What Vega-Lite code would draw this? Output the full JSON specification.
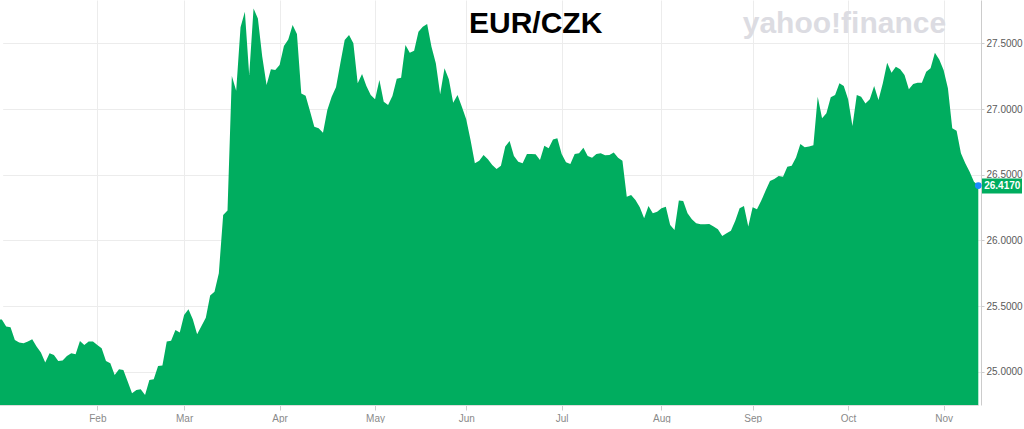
{
  "$schema": "https://vega.github.io/schema/vega-lite/v6.json",
  "width": 981,
  "height": 405,
  "padding": 0,
  "autosize": {"type": "pad"},
  "background": "white",
  "config": {"view": {"stroke": null}, "axis": {"labelFont": "Liberation Sans"}},
  "data": {"values": [
    {"date":"2020-01-01","close":25.400},{"date":"2020-01-02","close":25.397},{"date":"2020-01-03","close":25.344},{"date":"2020-01-06","close":25.339},{"date":"2020-01-07","close":25.242},{"date":"2020-01-08","close":25.222},{"date":"2020-01-09","close":25.217},{"date":"2020-01-10","close":25.230},{"date":"2020-01-13","close":25.247},{"date":"2020-01-14","close":25.192},{"date":"2020-01-15","close":25.146},{"date":"2020-01-16","close":25.070},{"date":"2020-01-17","close":25.141},{"date":"2020-01-20","close":25.128},{"date":"2020-01-21","close":25.082},{"date":"2020-01-22","close":25.085},{"date":"2020-01-23","close":25.120},{"date":"2020-01-24","close":25.141},{"date":"2020-01-27","close":25.133},{"date":"2020-01-28","close":25.235},{"date":"2020-01-29","close":25.204},{"date":"2020-01-30","close":25.230},{"date":"2020-01-31","close":25.230},
    {"date":"2020-02-03","close":25.204},{"date":"2020-02-04","close":25.179},{"date":"2020-02-05","close":25.082},{"date":"2020-02-06","close":25.065},{"date":"2020-02-07","close":24.976},{"date":"2020-02-10","close":25.019},{"date":"2020-02-11","close":25.014},{"date":"2020-02-12","close":24.925},{"date":"2020-02-13","close":24.836},{"date":"2020-02-14","close":24.862},{"date":"2020-02-17","close":24.867},{"date":"2020-02-18","close":24.824},{"date":"2020-02-19","close":24.938},{"date":"2020-02-20","close":24.943},{"date":"2020-02-21","close":25.044},{"date":"2020-02-24","close":25.047},{"date":"2020-02-25","close":25.230},{"date":"2020-02-26","close":25.237},{"date":"2020-02-27","close":25.318},{"date":"2020-02-28","close":25.298},
    {"date":"2020-03-02","close":25.433},{"date":"2020-03-03","close":25.476},{"date":"2020-03-04","close":25.400},{"date":"2020-03-05","close":25.285},{"date":"2020-03-06","close":25.349},{"date":"2020-03-09","close":25.412},{"date":"2020-03-10","close":25.580},{"date":"2020-03-11","close":25.610},{"date":"2020-03-12","close":25.750},{"date":"2020-03-13","close":26.194},{"date":"2020-03-16","close":26.227},{"date":"2020-03-17","close":27.251},{"date":"2020-03-18","close":27.140},{"date":"2020-03-19","close":27.622},{"date":"2020-03-20","close":27.741},{"date":"2020-03-23","close":27.259},{"date":"2020-03-24","close":27.766},{"date":"2020-03-25","close":27.690},{"date":"2020-03-26","close":27.399},{"date":"2020-03-27","close":27.183},{"date":"2020-03-30","close":27.302},{"date":"2020-03-31","close":27.297},
    {"date":"2020-04-01","close":27.335},{"date":"2020-04-02","close":27.480},{"date":"2020-04-03","close":27.530},{"date":"2020-04-06","close":27.640},{"date":"2020-04-07","close":27.571},{"date":"2020-04-08","close":27.119},{"date":"2020-04-09","close":27.102},{"date":"2020-04-10","close":26.985},{"date":"2020-04-13","close":26.866},{"date":"2020-04-14","close":26.853},{"date":"2020-04-15","close":26.820},{"date":"2020-04-16","close":26.993},{"date":"2020-04-17","close":27.094},{"date":"2020-04-20","close":27.165},{"date":"2020-04-21","close":27.348},{"date":"2020-04-22","close":27.525},{"date":"2020-04-23","close":27.563},{"date":"2020-04-24","close":27.500},{"date":"2020-04-27","close":27.196},{"date":"2020-04-28","close":27.267},{"date":"2020-04-29","close":27.175},{"date":"2020-04-30","close":27.107},
    {"date":"2020-05-01","close":27.074},{"date":"2020-05-04","close":27.221},{"date":"2020-05-05","close":27.056},{"date":"2020-05-06","close":27.031},{"date":"2020-05-07","close":27.099},{"date":"2020-05-08","close":27.231},{"date":"2020-05-11","close":27.239},{"date":"2020-05-12","close":27.487},{"date":"2020-05-13","close":27.429},{"date":"2020-05-14","close":27.444},{"date":"2020-05-15","close":27.589},{"date":"2020-05-18","close":27.627},{"date":"2020-05-19","close":27.647},{"date":"2020-05-20","close":27.475},{"date":"2020-05-21","close":27.348},{"date":"2020-05-22","close":27.112},{"date":"2020-05-25","close":27.310},{"date":"2020-05-26","close":27.226},{"date":"2020-05-27","close":27.048},{"date":"2020-05-28","close":27.107},{"date":"2020-05-29","close":27.018},
    {"date":"2020-06-01","close":26.922},{"date":"2020-06-02","close":26.764},{"date":"2020-06-03","close":26.587},{"date":"2020-06-04","close":26.607},{"date":"2020-06-05","close":26.650},{"date":"2020-06-08","close":26.617},{"date":"2020-06-09","close":26.574},{"date":"2020-06-10","close":26.544},{"date":"2020-06-11","close":26.569},{"date":"2020-06-12","close":26.714},{"date":"2020-06-15","close":26.757},{"date":"2020-06-16","close":26.643},{"date":"2020-06-17","close":26.599},{"date":"2020-06-18","close":26.587},{"date":"2020-06-19","close":26.658},{"date":"2020-06-22","close":26.658},{"date":"2020-06-23","close":26.655},{"date":"2020-06-24","close":26.612},{"date":"2020-06-25","close":26.721},{"date":"2020-06-26","close":26.701},{"date":"2020-06-29","close":26.769},{"date":"2020-06-30","close":26.777},
    {"date":"2020-07-01","close":26.658},{"date":"2020-07-02","close":26.594},{"date":"2020-07-03","close":26.582},{"date":"2020-07-06","close":26.658},{"date":"2020-07-07","close":26.663},{"date":"2020-07-08","close":26.706},{"date":"2020-07-09","close":26.643},{"date":"2020-07-10","close":26.630},{"date":"2020-07-13","close":26.658},{"date":"2020-07-14","close":26.663},{"date":"2020-07-15","close":26.648},{"date":"2020-07-16","close":26.650},{"date":"2020-07-17","close":26.670},{"date":"2020-07-20","close":26.630},{"date":"2020-07-21","close":26.607},{"date":"2020-07-22","close":26.333},{"date":"2020-07-23","close":26.346},{"date":"2020-07-24","close":26.308},{"date":"2020-07-27","close":26.252},{"date":"2020-07-28","close":26.168},{"date":"2020-07-29","close":26.262},{"date":"2020-07-30","close":26.206},{"date":"2020-07-31","close":26.219},
    {"date":"2020-08-03","close":26.244},{"date":"2020-08-04","close":26.257},{"date":"2020-08-05","close":26.117},{"date":"2020-08-06","close":26.079},{"date":"2020-08-07","close":26.303},{"date":"2020-08-10","close":26.300},{"date":"2020-08-11","close":26.206},{"date":"2020-08-12","close":26.161},{"date":"2020-08-13","close":26.130},{"date":"2020-08-14","close":26.123},{"date":"2020-08-17","close":26.123},{"date":"2020-08-18","close":26.125},{"date":"2020-08-19","close":26.105},{"date":"2020-08-20","close":26.084},{"date":"2020-08-21","close":26.034},{"date":"2020-08-24","close":26.054},{"date":"2020-08-25","close":26.074},{"date":"2020-08-26","close":26.150},{"date":"2020-08-27","close":26.244},{"date":"2020-08-28","close":26.262},{"date":"2020-08-31","close":26.105},
    {"date":"2020-09-01","close":26.252},{"date":"2020-09-02","close":26.237},{"date":"2020-09-03","close":26.303},{"date":"2020-09-04","close":26.379},{"date":"2020-09-07","close":26.452},{"date":"2020-09-08","close":26.468},{"date":"2020-09-09","close":26.490},{"date":"2020-09-10","close":26.485},{"date":"2020-09-11","close":26.561},{"date":"2020-09-14","close":26.569},{"date":"2020-09-15","close":26.632},{"date":"2020-09-16","close":26.734},{"date":"2020-09-17","close":26.709},{"date":"2020-09-18","close":26.714},{"date":"2020-09-21","close":26.724},{"date":"2020-09-22","close":27.094},{"date":"2020-09-23","close":26.929},{"date":"2020-09-24","close":26.967},{"date":"2020-09-25","close":27.089},{"date":"2020-09-28","close":27.107},{"date":"2020-09-29","close":27.196},{"date":"2020-09-30","close":27.175},
    {"date":"2020-10-01","close":27.074},{"date":"2020-10-02","close":26.871},{"date":"2020-10-05","close":27.107},{"date":"2020-10-06","close":27.094},{"date":"2020-10-07","close":27.043},{"date":"2020-10-08","close":27.074},{"date":"2020-10-09","close":27.175},{"date":"2020-10-12","close":27.069},{"date":"2020-10-13","close":27.196},{"date":"2020-10-14","close":27.353},{"date":"2020-10-15","close":27.277},{"date":"2020-10-16","close":27.322},{"date":"2020-10-19","close":27.302},{"date":"2020-10-20","close":27.259},{"date":"2020-10-21","close":27.150},{"date":"2020-10-22","close":27.191},{"date":"2020-10-23","close":27.201},{"date":"2020-10-26","close":27.201},{"date":"2020-10-27","close":27.284},{"date":"2020-10-28","close":27.310},{"date":"2020-10-29","close":27.429},{"date":"2020-10-30","close":27.378},
    {"date":"2020-11-02","close":27.297},{"date":"2020-11-03","close":27.158},{"date":"2020-11-04","close":26.853},{"date":"2020-11-05","close":26.835},{"date":"2020-11-06","close":26.663},{"date":"2020-11-09","close":26.587},{"date":"2020-11-10","close":26.523},{"date":"2020-11-11","close":26.447},{"date":"2020-11-12","close":26.417}
  ]},
  "encoding": {
    "x": {
      "field": "date",
      "type": "ordinal",
      "title": null,
      "scale": {"type": "point", "padding": 0, "range": [-2.5, 978.3]},
      "axis": {
        "values": ["2020-02-03","2020-03-02","2020-04-01","2020-05-01","2020-06-01","2020-07-01","2020-08-03","2020-09-01","2020-10-01","2020-11-02"],
        "labelExpr": "utcFormat(toDate(datum.value), '%b')",
        "labelAngle": 0,
        "labelColor": "#8a8a8a",
        "labelFontSize": 10,
        "labelPadding": 3,
        "tickColor": "#cccccc",
        "tickSize": 5,
        "domainColor": "#dddddd",
        "grid": true,
        "gridColor": "#ececec",
        "zindex": 0
      }
    }
  },
  "layer": [
    {
      "mark": {"type": "area", "color": "#00ad5f", "clip": true, "opacity": 1},
      "encoding": {
        "y": {
          "field": "close",
          "type": "quantitative",
          "title": null,
          "scale": {"domain": [24.747, 27.83], "nice": false, "zero": false},
          "axis": {
            "orient": "right",
            "values": [25, 25.5, 26, 26.5, 27, 27.5],
            "format": ".4f",
            "labelColor": "#5a5a5a",
            "labelFontSize": 10,
            "labelPadding": 2,
            "tickColor": "#cccccc",
            "tickSize": 3,
            "domainColor": "#cccccc",
            "gridColor": "#ececec",
            "zindex": 0
          }
        }
      }
    },
    {
      "transform": [{"filter": "datum.date == '2020-11-12'"}],
      "mark": {"type": "point", "filled": true, "opacity": 1, "color": "#00ad5f", "size": 400, "shape": "M0.37,-0.72H4.37V0.78H0.37Z"},
      "encoding": {"y": {"field": "close", "type": "quantitative"}}
    },
    {
      "transform": [{"filter": "datum.date == '2020-11-12'"}],
      "mark": {"type": "point", "filled": true, "opacity": 1, "color": "#1a8cff", "size": 45},
      "encoding": {"y": {"field": "close", "type": "quantitative"}}
    },
    {
      "transform": [{"filter": "datum.date == '2020-11-12'"}],
      "mark": {"type": "text", "color": "#ffffff", "font": "Liberation Sans", "fontSize": 10, "fontWeight": "bold", "align": "center", "baseline": "middle", "dx": 24, "dy": 0},
      "encoding": {"y": {"field": "close", "type": "quantitative"}, "text": {"field": "close", "type": "quantitative", "format": ".4f"}}
    },
    {
      "data": {"values": [{"label": "yahoo!finance"}]},
      "mark": {"type": "text", "color": "#dcdce2", "font": "Liberation Sans", "fontSize": 30, "fontWeight": "bold", "align": "center", "baseline": "alphabetic", "dx": 5},
      "encoding": {
        "x": {"datum": "2020-09-29", "type": "ordinal"},
        "y": {"datum": 27.578, "type": "quantitative"},
        "text": {"field": "label"}
      }
    },
    {
      "data": {"values": [{"label": "EUR/CZK"}]},
      "mark": {"type": "text", "color": "#000000", "font": "Liberation Sans", "fontSize": 30, "fontWeight": "bold", "align": "center", "baseline": "alphabetic", "dx": 0},
      "encoding": {
        "x": {"datum": "2020-06-23", "type": "ordinal"},
        "y": {"datum": 27.578, "type": "quantitative"},
        "text": {"field": "label"}
      }
    }
  ]
}
